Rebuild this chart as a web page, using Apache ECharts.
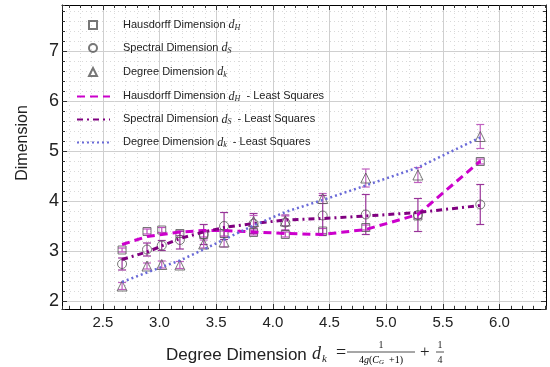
<!DOCTYPE html>
<html><head><meta charset="utf-8">
<script src="https://cdn.jsdelivr.net/npm/echarts@6/dist/echarts.min.js"></script>
<style>html,body{margin:0;padding:0;background:#fff}#c{width:550px;height:367px}</style>
</head><body><div id="c"></div>
<script>
// ---- data ----
const xValues = [2.67, 2.89, 3.02, 3.18, 3.39, 3.57, 3.83, 4.11, 4.44, 4.82, 5.28, 5.83];
const hausdorff = [3.02, 3.39, 3.42, 3.35, 3.33, 3.35, 3.37, 3.33, 3.40, 3.47, 3.70, 4.79];
const hausdorffErr = [0.04, 0.05, 0.05, 0.04, 0.05, 0.05, 0.05, 0.05, 0.05, 0.05, 0.05, 0.05];
const spectral = [2.74, 3.03, 3.11, 3.22, 3.33, 3.50, 3.55, 3.57, 3.71, 3.73, 3.72, 3.93];
const spectralErr = [0.12, 0.13, 0.10, 0.18, 0.20, 0.27, 0.20, 0.15, 0.40, 0.40, 0.33, 0.40];
const degree = [2.30, 2.70, 2.73, 2.72, 3.14, 3.18, 3.59, 3.60, 4.05, 4.46, 4.52, 5.29];
const degreeErr = [0.07, 0.06, 0.07, 0.07, 0.08, 0.10, 0.12, 0.10, 0.10, 0.18, 0.15, 0.24];
const hausdorffFit = [3.13, 3.29, 3.33, 3.38, 3.41, 3.41, 3.38, 3.35, 3.33, 3.43, 3.73, 4.80];
const spectralFit = [2.83, 2.98, 3.10, 3.25, 3.38, 3.47, 3.55, 3.62, 3.65, 3.70, 3.77, 3.91];
const degreeFit = [2.38, 2.57, 2.68, 2.81, 3.03, 3.23, 3.51, 3.78, 4.02, 4.31, 4.67, 5.27];
const xRange = [2.14, 6.41];
const yRange = [1.84, 7.92];

const names = {
  h: 'Hausdorff Dimension dH', s: 'Spectral Dimension dS', k: 'Degree Dimension dk',
  hl: 'Hausdorff Dimension dH - Least Squares', sl: 'Spectral Dimension dS - Least Squares', kl: 'Degree Dimension dk - Least Squares'
};
const legendRich = {
  sp: {width: 21}, sp2: {width: 8},
  t: {fontFamily: 'Liberation Sans', fontSize: 11, color: '#222'},
  m: {fontFamily: 'Liberation Serif', fontStyle: 'italic', fontSize: 12, color: '#222'},
  sub: {fontFamily: 'Liberation Serif', fontStyle: 'italic', fontSize: 8, color: '#222', padding: [5, 0, 0, 0]}
};
function legendText(name, spacer) {
  const map = {
    [names.h]: ['Hausdorff Dimension ', 'H', ''], [names.s]: ['Spectral Dimension ', 'S', ''], [names.k]: ['Degree Dimension ', 'k', ''],
    [names.hl]: ['Hausdorff Dimension ', 'H', '  - Least Squares'], [names.sl]: ['Spectral Dimension ', 'S', '  - Least Squares'], [names.kl]: ['Degree Dimension ', 'k', '  - Least Squares']
  };
  const p = map[name];
  return '{' + spacer + '|}{t|' + p[0] + '}{m|d}{sub|' + p[1] + '}' + (p[2] ? '{t|' + p[2] + '}' : '');
}
const legendYs = [27, 50, 74, 98, 121, 144];
const legendNames = [names.h, names.s, names.k, names.hl, names.sl, names.kl];
const legends = legendNames.map((n, i) => {
  const isLine = i >= 3;
  const lg = {
    data: [n], orient: 'vertical', left: isLine ? 76 : 88, top: legendYs[i] - 8, padding: 0,
    itemWidth: isLine ? 33 : 8, itemHeight: isLine ? 16 : 8, selectedMode: false,
    formatter: (name) => legendText(name, isLine ? 'sp2' : 'sp'),
    textStyle: {rich: legendRich}
  };
  if (isLine) lg.itemStyle = {opacity: 0};
  return lg;
});

function pairs(ys) { return xValues.map((x, i) => [x, ys[i]]); }
function errData(ys, es) { return xValues.map((x, i) => [x, ys[i], es[i]]); }
function errSeries(name, ys, es, color) {
  return {
    type: 'custom', name: name, z: 1, silent: true, data: errData(ys, es),
    renderItem: function (params, api) {
      const x = api.value(0), y = api.value(1), e = api.value(2);
      const lo = api.coord([x, y - e]), hi = api.coord([x, y + e]);
      const w = 4, st = {stroke: color, lineWidth: 1.2};
      return {type: 'group', children: [
        {type: 'line', shape: {x1: lo[0], y1: lo[1], x2: hi[0], y2: hi[1]}, style: st},
        {type: 'line', shape: {x1: lo[0] - w, y1: lo[1], x2: lo[0] + w, y2: lo[1]}, style: st},
        {type: 'line', shape: {x1: hi[0] - w, y1: hi[1], x2: hi[0] + w, y2: hi[1]}, style: st}
      ]};
    }
  };
}
const markerStyle = {color: 'rgba(255,255,255,0)', borderColor: '#555', borderWidth: 1};
const gridColor = '#cfcfcf';
function fmtMajor(step) {
  return function (v) { const r = Math.round(v / step) * step; return Math.abs(r - v) < 1e-6 ? (step < 1 ? v.toFixed(1) : String(Math.round(v))) : ''; };
}
function xAx(pos, major, labels) {
  return {
    type: 'value', position: pos, min: xRange[0], max: xRange[1], splitNumber: major ? 8 : 43,
    axisLine: {show: major, onZero: false, lineStyle: {color: '#000', width: 1}},
    axisTick: {show: true, inside: true, length: major ? 5 : 3, lineStyle: {color: '#333'}},
    axisLabel: {show: labels, formatter: fmtMajor(0.5), fontFamily: 'Liberation Sans', fontSize: 15, color: '#222', margin: 6, showMinLabel: false, showMaxLabel: false},
    splitLine: {show: pos === 'bottom', lineStyle: major ? {color: gridColor, width: 1} : {color: '#d9d9d9', width: 1, type: [1, 3]}}
  };
}
function yAx(pos, major, labels) {
  return {
    type: 'value', position: pos, min: yRange[0], max: yRange[1], splitNumber: major ? 6 : 30,
    axisLine: {show: major, onZero: false, lineStyle: {color: '#000', width: 1}},
    axisTick: {show: true, inside: true, length: major ? 5 : 3, lineStyle: {color: '#333'}},
    axisLabel: {show: labels, formatter: fmtMajor(1), fontFamily: 'Liberation Sans', fontSize: 18, color: '#222', margin: 3, showMinLabel: false, showMaxLabel: false},
    splitLine: {show: pos === 'left', lineStyle: major ? {color: gridColor, width: 1} : {color: '#d9d9d9', width: 1, type: [1, 3]}}
  };
}

const chart = echarts.init(document.getElementById('c'), null, {renderer: 'canvas'});
chart.setOption({
  animation: false,
  backgroundColor: '#fff',
  grid: {left: 62, right: 4, top: 5, bottom: 58, containLabel: false},
  xAxis: [xAx('bottom', false, false), xAx('bottom', true, true), xAx('top', false, false), xAx('top', true, false)],
  yAxis: [yAx('left', false, false), yAx('left', true, true), yAx('right', false, false), yAx('right', true, false)],
  legend: legends,
  series: [
    errSeries('eh', hausdorff, hausdorffErr, '#c050c0'),
    errSeries('es', spectral, spectralErr, '#993399'),
    errSeries('ek', degree, degreeErr, '#c060c0'),
    {type: 'scatter', name: names.h, z: 2, symbol: 'rect', symbolSize: 8, data: pairs(hausdorff), itemStyle: markerStyle},
    {type: 'scatter', name: names.s, z: 2, symbol: 'circle', symbolSize: 9, data: pairs(spectral), itemStyle: markerStyle},
    {type: 'scatter', name: names.k, z: 2, symbol: 'triangle', symbolSize: 10, data: pairs(degree), itemStyle: markerStyle},
    {type: 'line', name: names.hl, z: 3, symbol: 'none', data: pairs(hausdorffFit), itemStyle: {color: '#cc00cc'}, lineStyle: {color: '#cc00cc', width: 3, type: [8, 5]}},
    {type: 'line', name: names.sl, z: 3, symbol: 'none', data: pairs(spectralFit), itemStyle: {color: '#800080'}, lineStyle: {color: '#800080', width: 3, type: [6, 4, 2, 4]}},
    {type: 'line', name: names.kl, z: 3, symbol: 'none', data: pairs(degreeFit), itemStyle: {color: '#6a6ad8'}, lineStyle: {color: '#6a6ad8', width: 2.5, type: [2, 3]}}
  ],
  graphic: [
    {type: 'text', x: 23, y: 143, rotation: Math.PI / 2, style: {text: 'Dimension', fontFamily: 'Liberation Sans', fontSize: 16, fill: '#222', align: 'center', verticalAlign: 'middle'}},
    {type: 'text', x: 166, y: 355, style: {text: 'Degree Dimension', fontFamily: 'Liberation Sans', fontSize: 17, fill: '#222', align: 'left', verticalAlign: 'middle'}},
    {type: 'text', x: 312, y: 354, style: {text: 'd', fontFamily: 'Liberation Serif', fontStyle: 'italic', fontSize: 18, fill: '#222', align: 'left', verticalAlign: 'middle'}},
    {type: 'text', x: 322, y: 359, style: {text: 'k', fontFamily: 'Liberation Serif', fontStyle: 'italic', fontSize: 11, fill: '#222', align: 'left', verticalAlign: 'middle'}},
    {type: 'text', x: 336, y: 353, style: {text: '=', fontFamily: 'Liberation Serif', fontSize: 18, fill: '#222', align: 'left', verticalAlign: 'middle'}},
    {type: 'text', x: 381, y: 345, style: {text: '1', fontFamily: 'Liberation Serif', fontSize: 10, fill: '#222', align: 'center', verticalAlign: 'middle'}},
    {type: 'line', shape: {x1: 347, y1: 352, x2: 415, y2: 352}, style: {stroke: '#222', lineWidth: 0.8}},
    {type: 'text', x: 381, y: 360, style: {text: '{a|4}{i|g}{a|(}{i|C}{s|G}{a|  +1)}', align: 'center', verticalAlign: 'middle', rich: {
      a: {fontFamily: 'Liberation Serif', fontSize: 10, color: '#222'},
      i: {fontFamily: 'Liberation Serif', fontStyle: 'italic', fontSize: 10, color: '#222'},
      s: {fontFamily: 'Liberation Serif', fontStyle: 'italic', fontSize: 7, color: '#222', padding: [4, 0, 0, 0]}}}},
    {type: 'text', x: 420, y: 353, style: {text: '+', fontFamily: 'Liberation Serif', fontSize: 17, fill: '#222', align: 'left', verticalAlign: 'middle'}},
    {type: 'text', x: 440, y: 345, style: {text: '1', fontFamily: 'Liberation Serif', fontSize: 10, fill: '#222', align: 'center', verticalAlign: 'middle'}},
    {type: 'line', shape: {x1: 436, y1: 352, x2: 444, y2: 352}, style: {stroke: '#222', lineWidth: 0.8}},
    {type: 'text', x: 440, y: 360, style: {text: '4', fontFamily: 'Liberation Serif', fontSize: 10, fill: '#222', align: 'center', verticalAlign: 'middle'}}
  ]
});
</script></body></html>
